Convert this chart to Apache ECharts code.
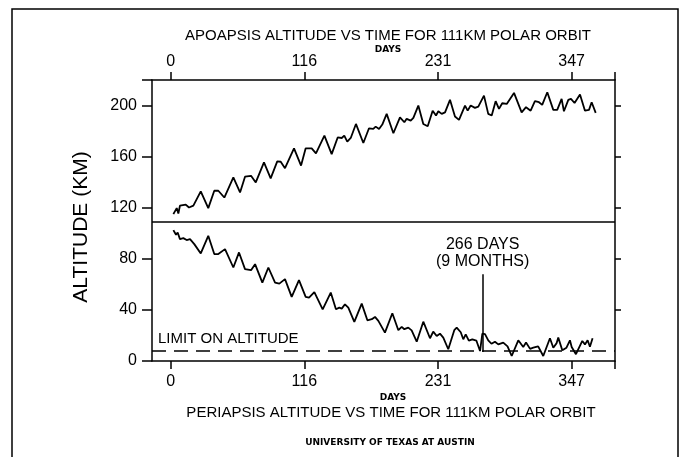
<!DOCTYPE html>
<html>
<head>
<meta charset="utf-8">
<script src="https://cdn.jsdelivr.net/npm/echarts@6/dist/echarts.min.js"></script>
<style>html,body{margin:0;padding:0;background:#fff}#c{width:680px;height:457px}</style>
</head>
<body>
<div id="c"></div>
<script>
// ---- data ----
const upperDays = [2.3,5.2,6.6,8,13,15.8,19.6,26,32.5,37.7,41.2,46.4,54.2,60,64.3,69.5,73.6,80.7,86.5,92.2,95.2,98.9,106.7,112.8,116.8,122,125.7,133,139.3,144.5,148,150.2,152.8,155.8,160.3,166.7,171.6,175.3,177.4,180.3,183.1,186.9,192.7,198.4,202.2,204.2,207.7,210,214.3,218.6,222.4,226.7,229.6,231.6,234.5,237.4,241.7,246,249.5,254.7,257,259.6,263.3,266.2,271.1,274.8,277.8,281.2,284.1,286.9,290.8,297.1,303.7,307.5,311.5,315.2,318.7,321.5,325.9,331.1,334.5,338.3,340.3,344.1,346.4,349.5,354.2,358.5,362,364.3,367.8];
const upperAlt = [115,119.7,115.5,121.6,122.4,120.2,121.6,132.8,119.7,133.3,133.3,128,143.8,132,144.3,145,139.8,155.5,143,156.3,156,151,166.5,153,166.5,166.5,162.6,176.5,162,175,174.6,176.5,171.8,174.6,185.6,170.7,182.2,181.7,183.5,181.7,185.1,193.5,178.3,190.8,186.9,189.6,188.2,190.4,200,185.6,183.8,196,192.2,195.5,193.5,194.7,204.5,191.4,188.8,200,196,200,198.2,199.2,207.8,193.5,192.2,203.4,197.4,201.8,201.3,209.9,194.7,198.7,196,203.4,202.6,200.5,210.4,196.6,196.6,205.2,195.5,204.4,205.2,202,208.6,196,196.6,202.6,194.3];
const lowerDays = [2.3,4.6,6,8,10.9,13.8,16.7,20.4,26,32.5,37.7,41.2,47,54.2,59.1,64.3,69.5,73,79.3,84.5,90.3,94,98.9,104.7,111,116.8,119.7,124.3,131.5,138.5,143,145.9,148,150.8,153.7,158.9,165.3,170.2,174,176.8,179.7,185.4,191.8,197,199.9,202.2,205.6,208.5,212.9,218.6,224.4,227.2,230.2,233,235.9,240.2,245.4,247.5,251,253.2,255.3,258,261,264.5,267.7,269.7,272,274.8,277.6,280.6,283.5,287.8,291.5,295.1,300.8,305.1,307.5,311,313.8,318,322.4,328.2,331.1,334,335.4,338.9,342.5,345.5,347,350.7,356.2,358.5,360.8,362.8,365.1];
const lowerAlt = [102.5,98.8,100.6,95.4,96.2,94.7,95.4,91.5,84.2,98,83.7,83.7,87.6,73.2,85,71.9,71.1,75.8,61.4,73.2,61.4,60.6,64.1,50.2,63.3,50.2,49.6,54,40.5,53.6,40.5,41.8,41,44.4,41.8,30.6,44.9,31.9,32.7,34.5,31.4,22.2,37.4,24.1,26.7,24.9,26.1,24,15.1,30.8,17.8,23,19.6,21.4,18.3,9.2,24.1,26.1,22.5,17,20.9,16,17,16,7.8,21.4,21,16.2,13.5,15.1,13,14.4,11.5,3.9,16.2,11,14.4,9.5,10.4,11.5,3.9,17.8,10.4,14,18.3,8.4,10.4,16.2,11,5.3,15.7,13,16.2,11.2,17.8];
const dayTicks = [0, 115.67, 231.33, 347];
const altTicks = [0, 40, 80, 120, 160, 200];
const xMin = -16.2, xMax = 384.5, yMin = 0, yMax = 220;
const orbitAlt = 109;
const limitAlt = 8;
const markerDay = 270, markerLow = 7, markerHigh = 68;
const topTitle = 'APOAPSIS ALTITUDE VS TIME FOR 111KM POLAR ORBIT';
const bottomTitle = 'PERIAPSIS ALTITUDE VS TIME FOR 111KM POLAR ORBIT';
const credit = 'UNIVERSITY OF TEXAS AT AUSTIN';

const F = 'Liberation Sans';
const blk = '#000';
const pairs = (xs, ys) => xs.map((x, i) => [x, ys[i]]);

const chart = echarts.init(document.getElementById('c'), null, {renderer: 'canvas'});
const axLine = {show: true, onZero: false, lineStyle: {color: blk, width: 1.5}};
function xAx(pos) {
  return {
    type: 'value', position: pos, min: xMin, max: xMax,
    axisLine: axLine,
    axisTick: {show: true, customValues: dayTicks.concat([xMax]), length: 8, lineStyle: {color: blk, width: 1.5}},
    axisLabel: {show: true, customValues: dayTicks, formatter: v => String(Math.round(v)), color: blk, fontFamily: F, fontSize: 16, margin: pos === 'top' ? 10 : 13},
    splitLine: {show: false}
  };
}
chart.setOption({
  animation: false,
  backgroundColor: '#fff',
  textStyle: {fontFamily: F, color: blk},
  grid: {left: 152, top: 80, width: 463, height: 281},
  xAxis: [xAx('bottom'), xAx('top')],
  yAxis: [
    {type: 'value', position: 'left', min: yMin, max: yMax,
     axisLine: axLine,
     axisTick: {show: true, customValues: altTicks.concat([yMax]), length: 10, lineStyle: {color: blk, width: 1.5}},
     axisLabel: {show: true, customValues: altTicks, color: blk, fontFamily: F, fontSize: 16, margin: 15},
     splitLine: {show: false}},
    {type: 'value', position: 'right', min: yMin, max: yMax,
     axisLine: axLine,
     axisTick: {show: true, customValues: altTicks.slice(1), length: 6, lineStyle: {color: blk, width: 1.5}},
     axisLabel: {show: false}, splitLine: {show: false}}
  ],
  series: [
    {type: 'line', data: pairs(upperDays, upperAlt), showSymbol: false, symbol: 'none',
     lineStyle: {color: blk, width: 1.8}, silent: true,
     markLine: {silent: true, symbol: ['none', 'none'], animation: false,
       lineStyle: {color: blk, width: 1.6, type: 'solid'}, label: {show: false},
       data: [{yAxis: orbitAlt}]}},
    {type: 'line', data: pairs(lowerDays, lowerAlt), showSymbol: false, symbol: 'none',
     lineStyle: {color: blk, width: 1.8}, silent: true,
     markLine: {silent: true, symbol: ['none', 'none'], animation: false,
       data: [
         {yAxis: limitAlt, lineStyle: {color: blk, width: 1.5, type: [14, 8]},
          label: {show: true, position: 'insideStartTop', formatter: 'LIMIT ON ALTITUDE', color: blk, fontFamily: F, fontSize: 15, distance: [6, 4]}},
         [{coord: [markerDay, markerLow], lineStyle: {color: blk, width: 1.5, type: 'solid'},
           label: {show: true, position: 'end', formatter: '266 DAYS\n(9 MONTHS)', color: blk, fontFamily: F, fontSize: 16, lineHeight: 17, align: 'center', distance: 4}},
          {coord: [markerDay, markerHigh]}]
       ]}}
  ],
  graphic: [
    {type: 'rect', shape: {x: 12, y: 9, width: 666, height: 470}, style: {fill: 'none', stroke: blk, lineWidth: 1.5}, silent: true},
    {type: 'text', x: 388, y: 36, style: {text: topTitle, font: '15px "Liberation Sans"', fill: blk, textAlign: 'center', textVerticalAlign: 'middle'}},
    {type: 'text', x: 388, y: 50, style: {text: 'DAYS', font: 'bold 9px "DejaVu Sans"', fill: blk, textAlign: 'center', textVerticalAlign: 'middle'}},
    {type: 'text', x: 393, y: 398, style: {text: 'DAYS', font: 'bold 9px "DejaVu Sans"', fill: blk, textAlign: 'center', textVerticalAlign: 'middle'}},
    {type: 'text', x: 391, y: 413, style: {text: bottomTitle, font: '15px "Liberation Sans"', fill: blk, textAlign: 'center', textVerticalAlign: 'middle'}},
    {type: 'text', x: 390, y: 443, style: {text: credit, font: 'bold 9px "DejaVu Sans"', fill: blk, textAlign: 'center', textVerticalAlign: 'middle'}},
    {type: 'text', x: 81, y: 227, rotation: Math.PI / 2, style: {text: 'ALTITUDE (KM)', font: '21px "Liberation Sans"', fill: blk, textAlign: 'center', textVerticalAlign: 'middle'}}
  ]
});
</script>
</body>
</html>
